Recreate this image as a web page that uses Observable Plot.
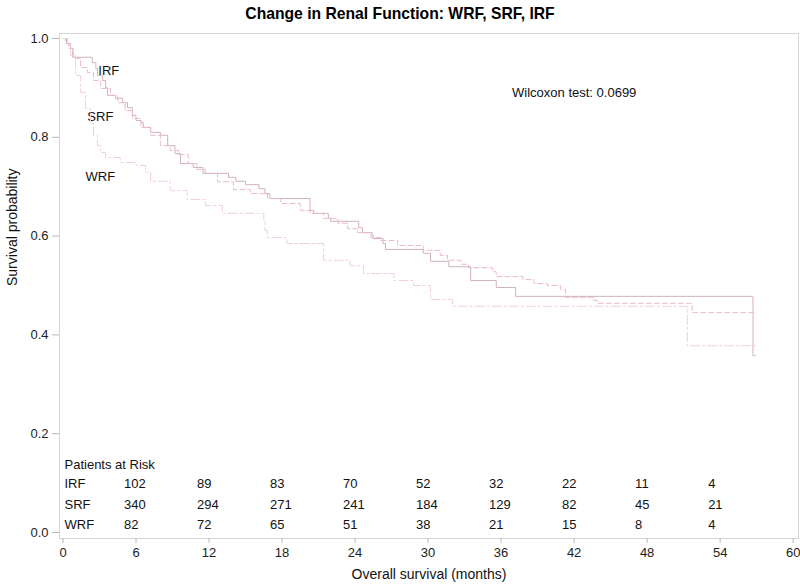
<!DOCTYPE html>
<html><head><meta charset="utf-8">
<script src="https://cdn.jsdelivr.net/npm/d3@7"></script>
<script src="https://cdn.jsdelivr.net/npm/@observablehq/plot@0.6"></script>
<style>
body{margin:0;background:#fff;font-family:"Liberation Sans",Arial,sans-serif;}
#title{width:800px;height:28px;line-height:28px;text-align:center;font-weight:bold;font-size:15.7px;color:#000;}
</style></head><body>
<div id="title">Change in Renal Function: WRF, SRF, IRF</div>
<div id="chart"></div>
<script>
const groups = ["IRF", "SRF", "WRF"];

const irfTime = [0, 0.3, 0.6, 0.8, 2.4, 2.7, 2.83, 3.25, 3.5, 3.66, 4.3, 4.9, 5.3, 5.7, 6.0, 6.4, 6.6, 7.2, 8.0, 8.6, 9.2, 9.65, 10.7, 11.5, 13.6, 14.2, 15.0, 16.1, 16.6, 17.0, 20.3, 20.6, 21.8, 22.0, 24.3, 24.6, 25.4, 25.5, 26.3, 26.5, 29.6, 30.2, 31.7, 33.5, 35.6, 37.2, 56.7, 56.9];
const irfSurv = [1.0, 0.99, 0.98, 0.962, 0.951, 0.939, 0.925, 0.915, 0.90, 0.885, 0.879, 0.870, 0.860, 0.844, 0.834, 0.830, 0.820, 0.810, 0.804, 0.783, 0.767, 0.747, 0.739, 0.727, 0.719, 0.711, 0.704, 0.696, 0.686, 0.676, 0.652, 0.646, 0.636, 0.630, 0.617, 0.607, 0.601, 0.595, 0.585, 0.573, 0.565, 0.549, 0.538, 0.510, 0.496, 0.478, 0.358, 0.358];

const srfTime = [0, 0.2, 0.45, 0.86, 1.44, 2.0, 2.5, 3.1, 3.9, 4.5, 5.1, 5.7, 6.4, 7.2, 8.0, 8.8, 9.5, 10.3, 11.0, 11.7, 12.7, 14.0, 15.4, 16.8, 17.9, 19.5, 20.3, 21.4, 22.6, 23.4, 24.2, 25.3, 26.1, 27.5, 29.6, 31.0, 31.6, 32.7, 33.3, 35.3, 35.6, 37.8, 38.7, 39.8, 40.9, 41.3, 43.6, 43.9, 51.7, 56.9];
const srfSurv = [1.0, 0.99, 0.98, 0.96, 0.941, 0.931, 0.915, 0.899, 0.885, 0.870, 0.854, 0.838, 0.820, 0.804, 0.783, 0.773, 0.765, 0.747, 0.735, 0.727, 0.710, 0.694, 0.686, 0.676, 0.666, 0.652, 0.646, 0.636, 0.626, 0.615, 0.607, 0.597, 0.591, 0.581, 0.571, 0.561, 0.551, 0.543, 0.536, 0.528, 0.518, 0.512, 0.504, 0.500, 0.492, 0.476, 0.470, 0.464, 0.445, 0.445];

const wrfTime = [0, 0.37, 0.62, 1.03, 1.44, 1.85, 2.26, 2.5, 2.83, 3.1, 3.5, 4.7, 6.0, 6.8, 7.2, 8.8, 10.2, 11.7, 13.1, 16.5, 16.6, 16.8, 18.4, 21.4, 23.6, 24.7, 27.2, 28.8, 30.2, 32.0, 51.3, 56.9];
const wrfSurv = [1.0, 0.986, 0.966, 0.925, 0.891, 0.858, 0.828, 0.804, 0.783, 0.769, 0.759, 0.749, 0.743, 0.729, 0.711, 0.692, 0.674, 0.662, 0.646, 0.632, 0.611, 0.597, 0.585, 0.551, 0.540, 0.524, 0.510, 0.500, 0.472, 0.458, 0.378, 0.378];

const riskTimes = [6, 12, 18, 24, 30, 36, 42, 48, 54];
const irfRisk = [102, 89, 83, 70, 52, 32, 22, 11, 4];
const srfRisk = [340, 294, 271, 241, 184, 129, 82, 45, 21];
const wrfRisk = [82, 72, 65, 51, 38, 21, 15, 8, 4];

const xTicks = [0, 6, 12, 18, 24, 30, 36, 42, 48, 54, 60];
const yTicks = [0, 0.2, 0.4, 0.6, 0.8, 1.0];

const riskTitle = "Patients at Risk";
const wilcoxonLabel = "Wilcoxon test: 0.0699";
const xLabel = "Overall survival (months)";
const yLabel = "Survival probability";

const toRows = (ts, ss) => ts.map((t, i) => ({t, s: ss[i]}));
const series = [
  {name: "IRF", rows: toRows(irfTime, irfSurv), risk: irfRisk},
  {name: "SRF", rows: toRows(srfTime, srfSurv), risk: srfRisk},
  {name: "WRF", rows: toRows(wrfTime, wrfSurv), risk: wrfRisk}
];
const styles = {
  IRF: {stroke: "#cfb3b9", dash: null, lx: 2.9, ly: 0.935, rowDy: -51},
  SRF: {stroke: "#ebbcc4", dash: "5,3", lx: 2.0, ly: 0.842, rowDy: -30},
  WRF: {stroke: "#f2d0d5", dash: "9,3,2,3", lx: 1.85, ly: 0.72, rowDy: -10}
};

const marks = [
  Plot.frame({stroke: "#d4d4d4"}),
  Plot.axisX({ticks: xTicks, tickSize: 5, tickPadding: 4, stroke: "#b8b8b8", tickFormat: d => String(d), label: null}),
  Plot.axisY({ticks: yTicks, tickSize: 7, tickPadding: 4, stroke: "#b8b8b8", tickFormat: d3.format(".1f"), label: null})
];
for (const s of series) {
  const st = styles[s.name];
  marks.push(Plot.line(s.rows, {x: "t", y: "s", curve: "step-after", stroke: st.stroke, strokeWidth: 1, strokeDasharray: st.dash}));
  marks.push(Plot.text([s.name], {x: st.lx, y: st.ly, textAnchor: "start", fill: "#111"}));
  marks.push(Plot.text([s.name], {frameAnchor: "bottom-left", dx: 5, dy: st.rowDy, textAnchor: "start", fill: "#111"}));
  marks.push(Plot.text(riskTimes, {x: d => d, text: (d, i) => String(s.risk[i]), frameAnchor: "bottom", dx: -12, dy: st.rowDy, textAnchor: "start", fill: "#111"}));
}
marks.push(Plot.text([riskTitle], {frameAnchor: "bottom-left", dx: 5, dy: -70, textAnchor: "start", fill: "#111"}));
marks.push(Plot.text([wilcoxonLabel], {x: 36.9, y: 0.89, textAnchor: "start", fill: "#111"}));
marks.push(Plot.text([xLabel], {frameAnchor: "bottom", dy: 40, fontSize: 14, fill: "#111"}));
marks.push(Plot.text([yLabel], {frameAnchor: "left", dx: -47, rotate: -90, fontSize: 14, fill: "#111"}));

const chart = Plot.plot({
  width: 800, height: 560,
  marginTop: 5, marginBottom: 50, marginLeft: 59, marginRight: 2,
  style: {fontFamily: '"Liberation Sans", Arial, sans-serif', fontSize: "13px", color: "#222", background: "#fff"},
  x: {domain: [-0.29, 60.44]},
  y: {domain: [-0.01215, 1.0101]},
  marks
});
document.getElementById("chart").appendChild(chart);
</script>
</body></html>
